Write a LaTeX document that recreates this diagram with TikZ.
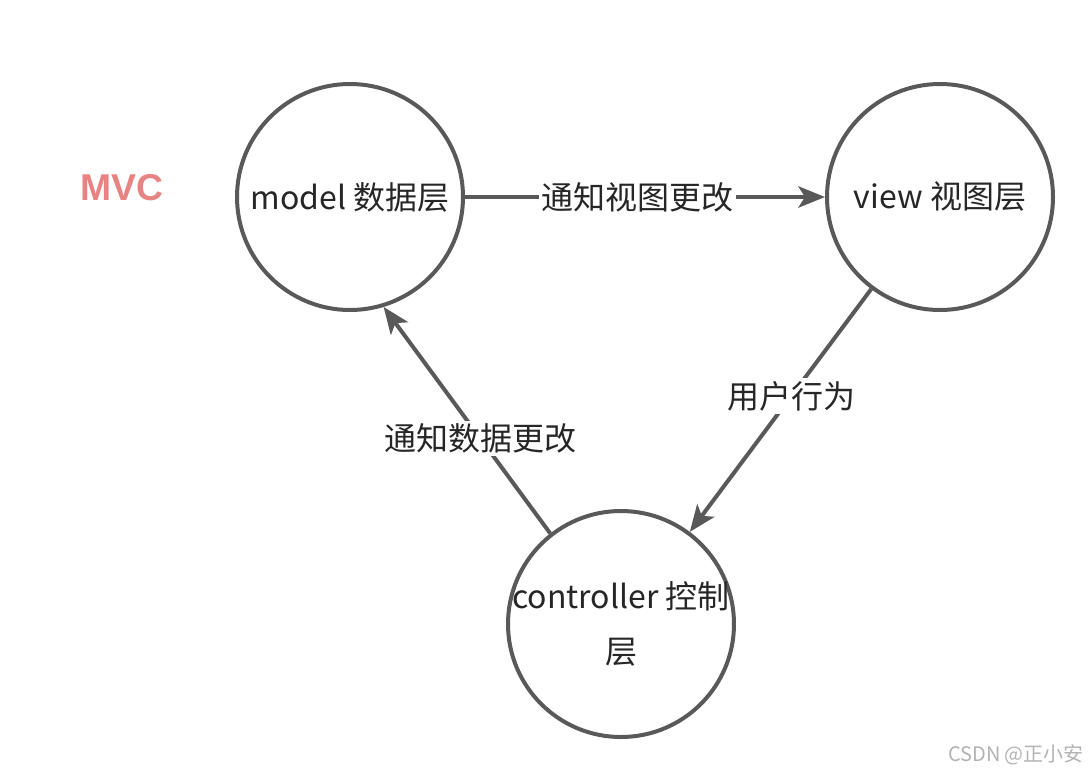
\documentclass[tikz,border=0pt]{standalone}
\usepackage{fontspec}
\setmainfont{Noto Sans CJK SC}
\newfontfamily\latinfont{Liberation Sans}
\usetikzlibrary{arrows.meta}
\definecolor{linegray}{HTML}{595959}
\definecolor{mvcpink}{HTML}{E88383}

\begin{document}
\begin{tikzpicture}[x=0.75pt,y=-0.75pt,
    layer/.style={circle,draw=linegray,line width=3pt,minimum size=169.5pt,inner sep=0pt,
      font=\fontsize{24}{41}\selectfont,text=black!85},
    flow/.style={-{Stealth[length=20pt,width=16pt,inset=5pt]},draw=linegray,line width=3pt},
    lbl/.style={fill=white,inner sep=2pt,font=\fontsize{24}{28}\selectfont,text=black!85}]
  \useasboundingbox (0,0) rectangle (1092,772);
  \node[font=\latinfont\bfseries\fontsize{28}{34}\selectfont,text=mvcpink] (title) at (122,188) {MVC};
  \node[layer] (model) at (350,197) {model 数据层};
  \node[layer] (view) at (940,197) {view 视图层};
  \node[layer,align=center,inner sep=-8pt] (ctrl) at (621,624) {controller 控制\\层};
  \draw[flow] (model) -- (view) node[lbl,pos=0.48] {通知视图更改};
  \draw[flow] (view) -- (ctrl) node[lbl,pos=0.44] {用户行为};
  \draw[flow] (ctrl.128) -- (model.287) node[lbl,pos=0.42] {通知数据更改};
  \node[font=\fontsize{15}{18}\selectfont,text=black!30] (mark) at (1016,755) {CSDN @正小安};
\end{tikzpicture}
\end{document}
